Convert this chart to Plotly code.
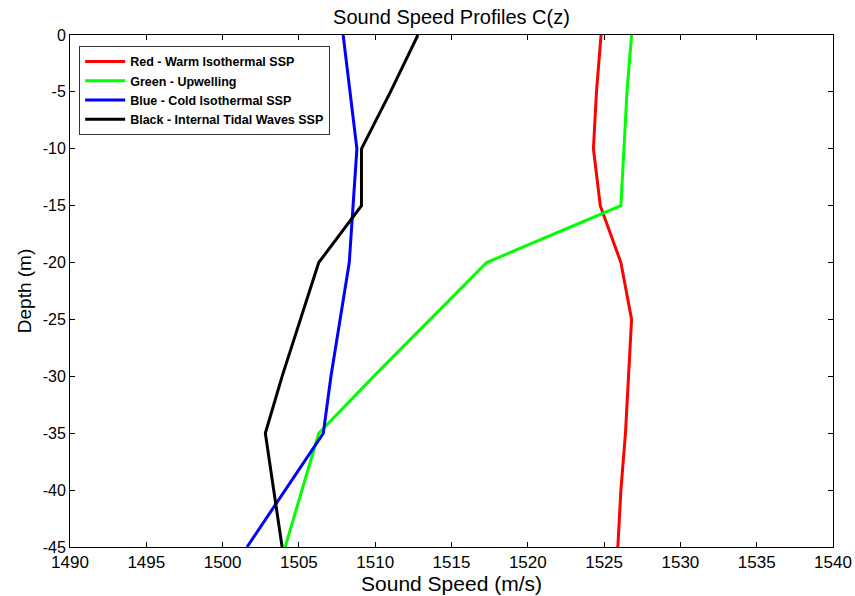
import plotly.graph_objects as go

depth = [0, -5, -10, -15, -20, -25, -30, -35, -40, -45]
red_warm = [1524.8, 1524.5, 1524.3, 1524.75, 1526.1, 1526.8, 1526.6, 1526.4, 1526.1, 1525.9]
green_upwelling = [1526.8, 1526.5, 1526.3, 1526.1, 1517.3, 1513.6, 1509.9, 1506.3, 1505.2, 1504.1]
blue_cold = [1507.9, 1508.35, 1508.8, 1508.55, 1508.3, 1507.7, 1507.1, 1506.6, 1504.1, 1501.6]
black_tidal = [1512.8, 1511.0, 1509.1, 1509.1, 1506.3, 1505.1, 1503.9, 1502.8, 1503.35, 1503.9]

names = ["Red - Warm Isothermal SSP", "Green - Upwelling",
         "Blue - Cold Isothermal SSP", "Black - Internal Tidal Waves SSP"]
colors = ["#FF0000", "#00FF00", "#0000FF", "#000000"]
series = [red_warm, green_upwelling, blue_cold, black_tidal]

x_ticks = list(range(1490, 1541, 5))
y_ticks = list(range(-45, 1, 5))

fig = go.Figure()
for nm, col, vals in zip(names, colors, series):
    fig.add_trace(go.Scatter(x=vals, y=depth, mode="lines", name=nm,
                             line=dict(color=col, width=3)))

font_family = "Liberation Sans, Arial, sans-serif"
fig.update_layout(
    width=855, height=596,
    margin=dict(l=70, r=22, t=35, b=49, autoexpand=False),
    paper_bgcolor="white", plot_bgcolor="white",
    title=dict(text="Sound Speed Profiles C(z)", x=0.5, xref="paper", xanchor="center",
               y=0.972, yanchor="middle", font=dict(family=font_family, size=20, color="black")),
    font=dict(family=font_family, color="black"),
    showlegend=True,
    legend=dict(x=0.012, y=0.979, xanchor="left", yanchor="top",
                bgcolor="white", bordercolor="#333333", borderwidth=1,
                font=dict(family=font_family, size=12.5, color="black", weight="bold"),
                tracegroupgap=0, itemwidth=40),
)
fig.update_xaxes(range=[1490, 1540], tickvals=x_ticks, ticktext=[str(v) for v in x_ticks],
                 showgrid=False, zeroline=False, showline=True, linecolor="black", linewidth=1,
                 mirror="ticks", ticks="inside", ticklen=5, tickcolor="black", automargin=False,
                 tickfont=dict(size=17, family=font_family),
                 title=dict(text="Sound Speed (m/s)", font=dict(size=21, family=font_family), standoff=0))
fig.update_yaxes(range=[-45, 0], tickvals=y_ticks, ticktext=[str(v) for v in y_ticks],
                 showgrid=False, zeroline=False, showline=True, linecolor="black", linewidth=1,
                 mirror="ticks", ticks="inside", ticklen=5, tickcolor="black", automargin=False,
                 tickfont=dict(size=16, family=font_family),
                 title=dict(text="Depth (m)", font=dict(size=19, family=font_family), standoff=6))

fig.write_html("out.html")
